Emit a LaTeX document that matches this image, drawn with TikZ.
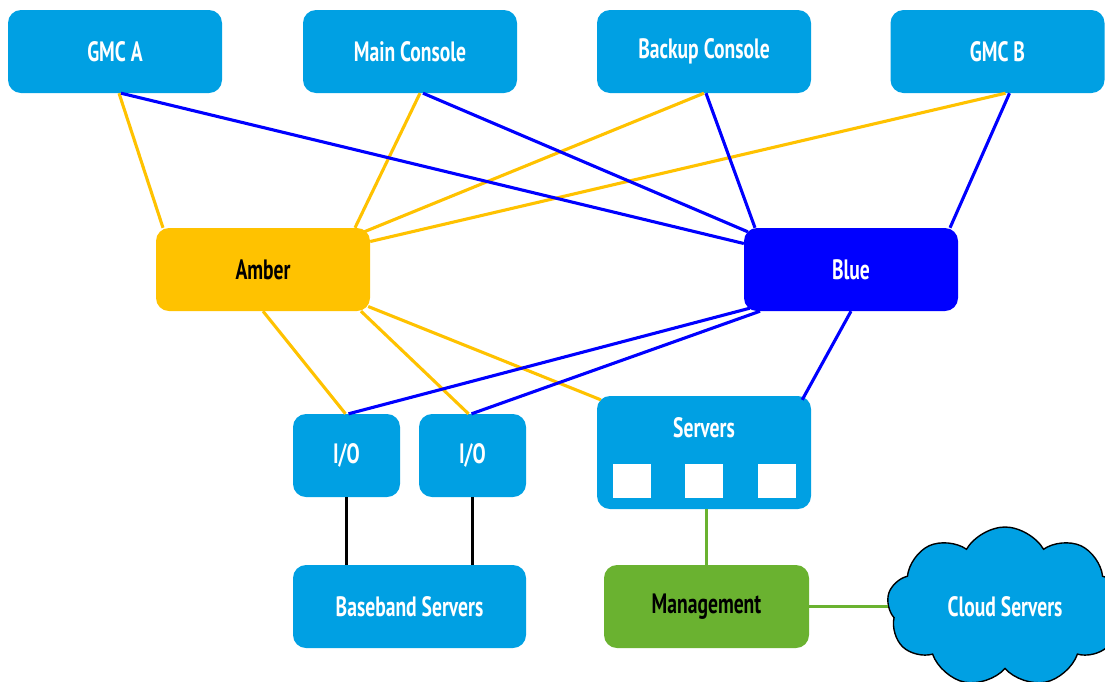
\documentclass[tikz,border=0pt]{standalone}
\usepackage{fontspec}
\setmainfont{PT Sans}[FakeStretch=0.70]
\usetikzlibrary{shapes.symbols,calc}
\definecolor{boxblue}{RGB}{0,160,227}
\definecolor{amber}{RGB}{255,194,0}
\definecolor{netblue}{RGB}{0,0,255}
\definecolor{mgmtgreen}{RGB}{106,178,48}
\begin{document}
\begin{tikzpicture}[x=1pt,y=-1pt,
  lbl/.style={font=\fontsize{28}{32}\selectfont\bfseries},
  box/.style={lbl, rounded corners=13pt, inner sep=0pt, fill=boxblue, text=white},
  wide/.style={box, minimum width=214pt, minimum height=83pt},
  small/.style={box, minimum width=107pt, minimum height=83pt},
  slot/.style={fill=white, inner sep=0pt, minimum width=38pt, minimum height=34pt},
  amberline/.style={draw=amber, line width=3.1pt},
  blueline/.style={draw=netblue, line width=3.1pt},
  blackline/.style={draw=black, line width=3.2pt},
  greenline/.style={draw=mgmtgreen, line width=3pt}
]
\useasboundingbox (0,0) rectangle (1105,681);
\clip (0,0) rectangle (1105,681);

% top row
\node[wide] (gmca)   at (115,51.5)   {GMC A};
\node[wide] (main)   at (410,51.5)   {Main Console};
\node[wide] (backup) at (704,51.5)   {Backup Console};
\node[wide] (gmcb)   at (997.5,51.5) {GMC B};

% networks
\node[wide, fill=amber, text=black] (amber) at (263,269.5) {Amber};
\node[wide, fill=netblue]           (blue)  at (851,269.5) {Blue};

% lower row
\node[small] (io1) at (346.5,455.5) {I/O};
\node[small] (io2) at (472.5,455.5) {I/O};
\node[box, minimum width=214pt, minimum height=113pt] (servers) at (704,452.5) {};
\node[lbl, text=white] (servlbl) at (704,428) {Servers};
\node[slot] (s1) at (632,481) {};
\node[slot] (s2) at (704,481) {};
\node[slot] (s3) at (776.5,481) {};

\node[box, minimum width=233pt, minimum height=83pt] (baseband) at (409.5,606.5) {Baseband Servers};
\node[wide, minimum width=205pt, fill=mgmtgreen, text=black] (mgmt) at (706.5,606.5) {Management};
\node[cloud, cloud puffs=9, cloud puff arc=120, aspect=1.4, draw=black, line width=1.4pt,
      fill=boxblue, text=white, lbl, minimum width=236pt, minimum height=160pt] (cloud) at (1005,607) {Cloud Servers};

% amber links
\draw[amberline] ([xshift=4pt]gmca.south)   -- ([xshift=-100pt]amber.north);
\draw[amberline] ([xshift=10pt]main.south)  -- ([xshift=92pt]amber.north);
\draw[amberline] (backup.south)             -- ($(amber.north east)+(-6,4)$);
\draw[amberline] ([xshift=8pt]gmcb.south)   -- ($(amber.east)+(0,-28)$);
\draw[amberline] (amber.south)              -- ([xshift=-1pt]io1.north);
\draw[amberline] ([xshift=98pt]amber.south) -- ([xshift=-4pt]io2.north);
\draw[amberline] ($(amber.east)+(-2,37)$)   -- ($(servers.north west)+(4,4)$);

% blue links
\draw[blueline] ([xshift=6pt]gmca.south)   -- ($(blue.west)+(0,-26)$);
\draw[blueline] ([xshift=13pt]main.south)  -- ($(blue.north west)+(4,4)$);
\draw[blueline] ([xshift=2pt]backup.south) -- ([xshift=-96pt]blue.north);
\draw[blueline] ([xshift=12pt]gmcb.south)  -- ([xshift=99pt]blue.north);
\draw[blueline] ($(blue.south west)+(6,-3)$) -- ([xshift=2pt]io1.north);
\draw[blueline] ([xshift=-91pt]blue.south) -- ([xshift=-1pt]io2.north);
\draw[blueline] (blue.south)               -- ($(servers.north east)+(-9,4)$);

% wired links
\draw[blackline] (io1.south) -- (io1.south |- baseband.north);
\draw[blackline] (io2.south) -- (io2.south |- baseband.north);
\draw[greenline] ([xshift=2pt]servers.south) -- ([xshift=2pt]servers.south |- mgmt.north);
\draw[greenline] (mgmt.east) -- (mgmt.east -| cloud.west);
\end{tikzpicture}
\end{document}
